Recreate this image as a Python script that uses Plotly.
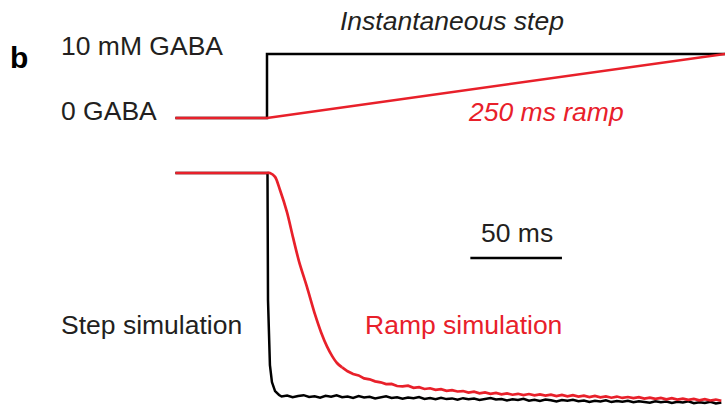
import plotly.graph_objects as go

# tempi in ms (0 = inizio dello step), concentrazioni in mM
step_t = [-50, 0, 0, 250]
step_c = [0, 0, 10, 10]
ramp_t = [-50, 0, 250]
ramp_c = [0, 0, 10]

# corrente normalizzata, simulazione step
black_head_t = [-50, 0, 0.27, 0.55, 1.1, 1.6, 2.7, 4.4, 6.6]
black_head_i = [0, 0, 0, -0.552, -0.748, -0.835, -0.909, -0.948, -0.965]
black_tail_t = list(range(8, 251, 3))
black_tail_i = [
    -0.972, -0.968, -0.975, -0.970, -0.966, -0.974, -0.971, -0.977, -0.969, -0.973,
    -0.967, -0.975, -0.972, -0.978, -0.970, -0.976, -0.973, -0.980, -0.974, -0.971,
    -0.978, -0.975, -0.981, -0.976, -0.979, -0.974, -0.982, -0.978, -0.984, -0.977,
    -0.983, -0.980, -0.986, -0.979, -0.984, -0.981, -0.987, -0.982, -0.978, -0.985,
    -0.983, -0.989, -0.984, -0.987, -0.982, -0.990, -0.986, -0.991, -0.985, -0.988,
    -0.993, -0.987, -0.990, -0.986, -0.992, -0.989, -0.995, -0.990, -0.993, -0.988,
    -0.996, -0.991, -0.994, -0.990, -0.997, -0.992, -0.995, -0.999, -0.993, -0.997,
    -0.994, -1.000, -0.995, -0.998, -0.993, -1.001, -0.997, -1.000, -0.995, -1.002,
    -0.998,
]

# corrente normalizzata, simulazione rampa
red_head_t = [-50, 0, 1.6, 4.4, 7.1, 10.9, 14.2, 17.5, 21.8, 26.2, 29.5, 32.8, 35.5, 38.2, 41]
red_head_i = [0, 0, 0, -0.017, -0.074, -0.17, -0.28, -0.385, -0.495, -0.615, -0.692,
              -0.755, -0.795, -0.826, -0.845]
red_tail_t = list(range(41, 251, 3))
red_tail_i = [
    -0.845, -0.862, -0.874, -0.880, -0.893, -0.897, -0.906, -0.910, -0.918, -0.917,
    -0.926, -0.928, -0.925, -0.934, -0.931, -0.939, -0.936, -0.943, -0.940, -0.947,
    -0.944, -0.950, -0.948, -0.955, -0.951, -0.958, -0.954, -0.960, -0.956, -0.962,
    -0.958, -0.964, -0.960, -0.966, -0.961, -0.967, -0.963, -0.968, -0.964, -0.970,
    -0.965, -0.971, -0.966, -0.972, -0.968, -0.974, -0.969, -0.975, -0.971, -0.977,
    -0.972, -0.978, -0.974, -0.979, -0.975, -0.981, -0.977, -0.982, -0.978, -0.984,
    -0.979, -0.985, -0.981, -0.986, -0.982, -0.988, -0.983, -0.989, -0.985, -0.990,
]

scale_bar_ms = 50
scale_bar_start = 111

RED = "#e8202a"
FONT = "Liberation Sans, Arial, sans-serif"
W, H = 725, 407

fig = go.Figure()
fig.add_trace(go.Scatter(x=step_t, y=step_c, mode="lines", line=dict(color="black", width=2.5), yaxis="y"))
fig.add_trace(go.Scatter(x=ramp_t, y=ramp_c, mode="lines", line=dict(color=RED, width=2.5), yaxis="y"))
fig.add_trace(go.Scatter(x=black_head_t + black_tail_t, y=black_head_i + black_tail_i, mode="lines",
                         line=dict(color="black", width=2.5), yaxis="y2"))
fig.add_trace(go.Scatter(x=red_head_t, y=red_head_i, mode="lines",
                         line=dict(color=RED, width=2.7, shape="spline", smoothing=0.8), yaxis="y2"))
fig.add_trace(go.Scatter(x=red_tail_t, y=red_tail_i, mode="lines",
                         line=dict(color=RED, width=2.7), yaxis="y2"))

# barra di scala
fig.add_shape(type="line", xref="x", yref="paper", x0=scale_bar_start, x1=scale_bar_start + scale_bar_ms,
              y0=1 - 258 / H, y1=1 - 258 / H, line=dict(color="black", width=2.5))


def label(text, px, py, color="#231f20", size=26.5, italic=False, bold=False, xanchor="left"):
    if italic:
        text = f"<i>{text}</i>"
    if bold:
        text = f"<b>{text}</b>"
    fig.add_annotation(text=text, x=px / W, y=1 - py / H, xref="paper", yref="paper",
                       xanchor=xanchor, yanchor="middle", showarrow=False,
                       font=dict(family=FONT, size=size, color=color))


label("b", 8, 58, color="black", size=30, bold=True)
label("10 mM GABA", 59, 46)
label("0 GABA", 59, 111)
label("Instantaneous step", 452, 21, italic=True, xanchor="center")
label("250 ms ramp", 546, 112, color=RED, italic=True, xanchor="center")
label("50 ms", 517, 233, xanchor="center")
label("Step simulation", 59, 325)
label("Ramp simulation", 463, 325, color=RED, xanchor="center")

fig.update_layout(
    width=W, height=H,
    margin=dict(l=0, r=0, t=0, b=0),
    paper_bgcolor="white", plot_bgcolor="white",
    showlegend=False,
    hovermode=False,
    xaxis=dict(range=[-145.74, 250.0], visible=False),
    yaxis=dict(domain=[1 - 130 / H, 1 - 30 / H], range=[-1.875, 13.75], visible=False),
    yaxis2=dict(domain=[0, 1 - 150 / H], range=[-1.0174, 0.1], visible=False, anchor="x"),
)

# niente margine di default del body, cosi' la figura parte da (0, 0)
fig.write_html("out.html", config={"displayModeBar": False},
               post_script="document.body.style.margin = '0';")
